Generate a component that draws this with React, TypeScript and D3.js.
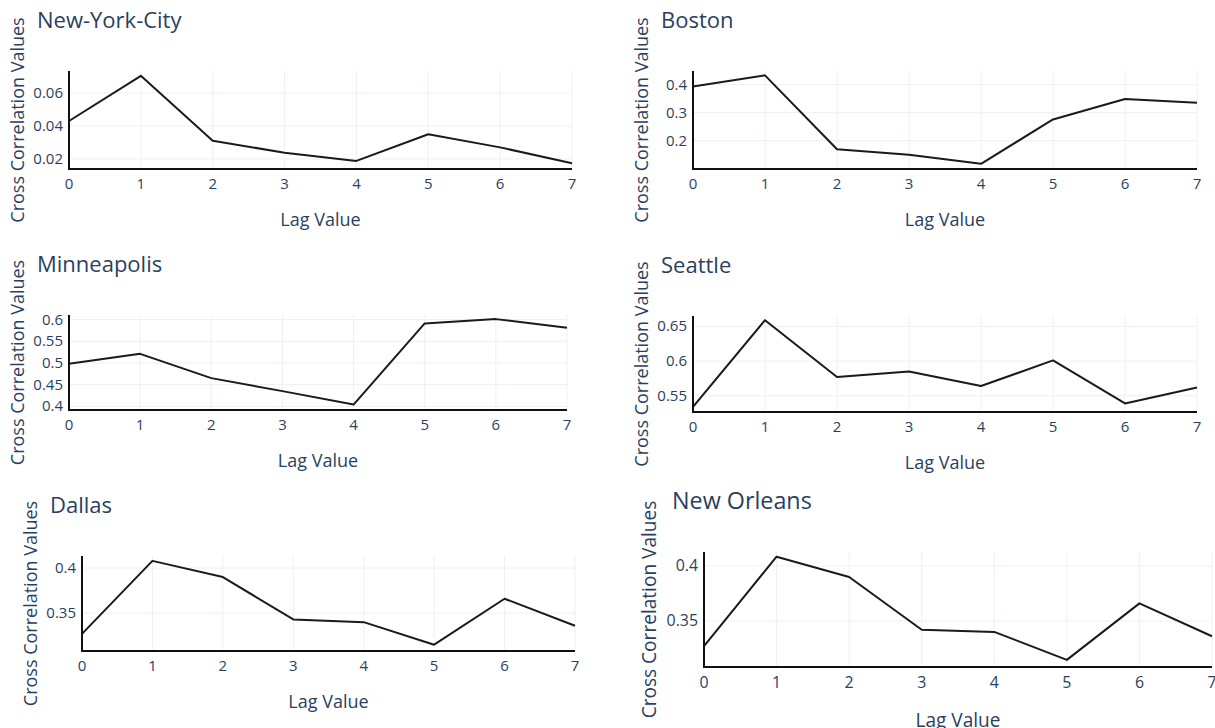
import React from 'react'
import * as d3 from 'd3'

// lag values shared by every city
const lags = [0, 1, 2, 3, 4, 5, 6, 7]

const cityNames = ['New-York-City', 'Boston', 'Minneapolis', 'Seattle', 'Dallas', 'New Orleans']

// cross correlation per lag
const nycValues = [0.043, 0.0704, 0.031, 0.0238, 0.0188, 0.035, 0.027, 0.0174]
const bostonValues = [0.393, 0.433, 0.17, 0.15, 0.118, 0.276, 0.349, 0.335]
const minneapolisValues = [0.498, 0.521, 0.465, 0.435, 0.404, 0.591, 0.601, 0.581]
const seattleValues = [0.534, 0.659, 0.577, 0.585, 0.564, 0.601, 0.539, 0.562]
const dallasValues = [0.327, 0.408, 0.39, 0.343, 0.34, 0.315, 0.366, 0.336]
const newOrleansValues = [0.327, 0.4085, 0.39, 0.342, 0.34, 0.3145, 0.366, 0.336]

// y ranges and tick values per city
const yRanges = [
  [0.0139, 0.0733],
  [0.0994, 0.4485],
  [0.3915, 0.6105],
  [0.5266, 0.665],
  [0.308, 0.4134],
  [0.308, 0.4128],
]
const yTickValues = [
  [0.02, 0.04, 0.06],
  [0.2, 0.3, 0.4],
  [0.4, 0.45, 0.5, 0.55, 0.6],
  [0.55, 0.6, 0.65],
  [0.35, 0.4],
  [0.35, 0.4],
]

const seriesValues = [nycValues, bostonValues, minneapolisValues, seattleValues, dallasValues, newOrleansValues]

// where each small plot sits on the page (plot area box + font scale)
const boxes = [
  { left: 69, right: 572, top: 71, bottom: 169, k: 1 },
  { left: 693, right: 1197, top: 71, bottom: 169, k: 1 },
  { left: 69, right: 567, top: 315, bottom: 410, k: 1 },
  { left: 693, right: 1197, top: 316, bottom: 412, k: 1 },
  { left: 82, right: 575, top: 556, bottom: 651, k: 1 },
  { left: 704, right: 1212, top: 552, bottom: 667, k: 1.06 },
]

const textColor = '#2a3f5f'
const gridColor = '#ebf0f8'
const font = '"Open Sans", sans-serif'

function Panel({ name, values, range, ticks, box }) {
  const { left, right, top, bottom, k } = box
  const x = d3.scaleLinear().domain([0, 7]).range([left, right])
  const y = d3.scaleLinear().domain(range).range([bottom, top])
  const line = d3
    .line<number>()
    .x((d, i) => x(lags[i]))
    .y(d => y(d))

  return (
    <g>
      {/* grid */}
      {lags.slice(1).map(l => (
        <line key={'gx' + l} x1={x(l)} x2={x(l)} y1={top} y2={bottom} stroke={gridColor} strokeWidth={1} />
      ))}
      {ticks.map(t => (
        <line key={'gy' + t} x1={left} x2={right} y1={y(t)} y2={y(t)} stroke={gridColor} strokeWidth={1} />
      ))}

      <path d={line(values) || ''} fill="none" stroke="#1a1a1a" strokeWidth={2} strokeLinejoin="round" />

      {/* axis lines */}
      <line x1={left} x2={left} y1={top} y2={bottom + 1} stroke="#111" strokeWidth={2} />
      <line x1={left - 1} x2={right} y1={bottom} y2={bottom} stroke="#111" strokeWidth={2} />

      {/* tick labels */}
      {lags.map(l => (
        <text key={'tx' + l} x={x(l)} y={bottom + 20 * k} textAnchor="middle" fontSize={15 * k} fill={textColor}>
          {l}
        </text>
      ))}
      {ticks.map(t => (
        <text key={'ty' + t} x={left - 6} y={y(t) + 5 * k} textAnchor="end" fontSize={15 * k} fill={textColor}>
          {String(t)}
        </text>
      ))}

      {/* titles */}
      <text x={left - 32} y={top - 43} fontSize={22 * k} fill={textColor}>
        {name}
      </text>
      <text x={(left + right) / 2} y={bottom + 57 * k} textAnchor="middle" fontSize={18 * k} fill={textColor}>
        Lag Value
      </text>
      <text
        transform={`translate(${left - 51 * k + 6},${(top + bottom) / 2}) rotate(-90)`}
        textAnchor="middle"
        fontSize={18 * k}
        fill={textColor}
      >
        Cross Correlation Values
      </text>
    </g>
  )
}

export default function App() {
  return (
    <svg
      width={1215}
      height={728}
      style={{ position: 'absolute', left: 0, top: 0, background: '#fff' }}
      fontFamily={font}
    >
      {cityNames.map((name, i) => (
        <Panel key={name} name={name} values={seriesValues[i]} range={yRanges[i]} ticks={yTickValues[i]} box={boxes[i]} />
      ))}
    </svg>
  )
}
